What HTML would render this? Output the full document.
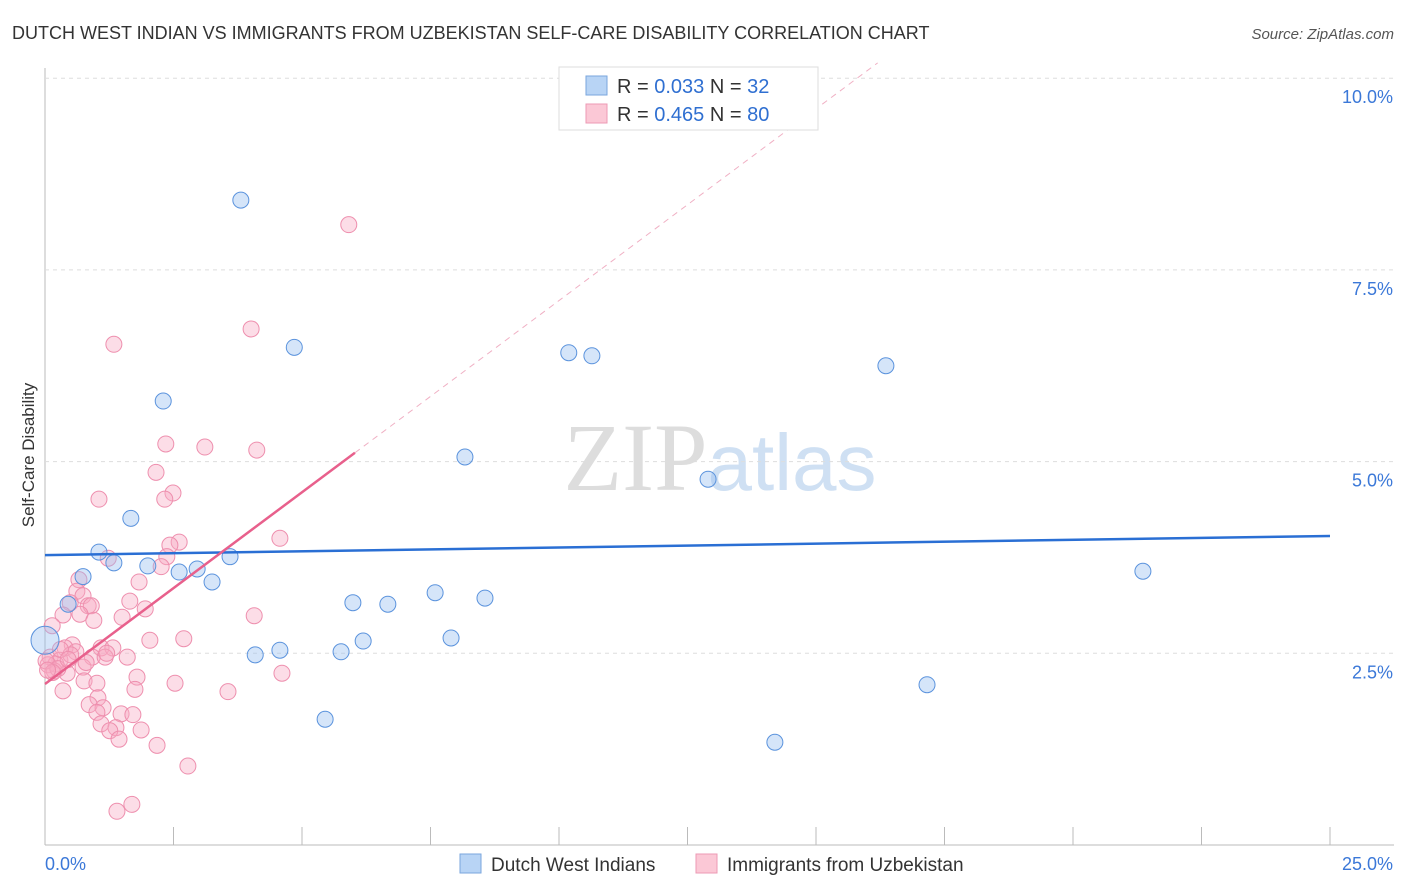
<!DOCTYPE html>
<html><head><meta charset="utf-8"><style>
body{margin:0;background:#fff;font-family:"Liberation Sans",sans-serif}
svg{display:block}
</style></head><body>
<svg id="c" width="1406" height="892" xmlns="http://www.w3.org/2000/svg">
<text x="12" y="39" font-size="18" fill="#333">DUTCH WEST INDIAN VS IMMIGRANTS FROM UZBEKISTAN SELF-CARE DISABILITY CORRELATION CHART</text>
<text x="1394" y="39" font-size="15" fill="#555" text-anchor="end" font-style="italic">Source: ZipAtlas.com</text>
<text x="720" y="490" font-size="96" text-anchor="middle" fill="#ddd" font-family="Liberation Serif">ZIP<tspan fill="#cfe0f3" font-family="Liberation Sans" font-size="80">atlas</tspan></text>
<text transform="translate(34,455) rotate(-90)" font-size="17" fill="#333" text-anchor="middle">Self-Care Disability</text>
<g id="grid"></g><g id="pts"></g><g id="lines"></g>
<g>
<rect x="559" y="67" width="259" height="63" fill="#fff" stroke="#ddd"/>
<rect x="586" y="76" width="21" height="19" fill="#b8d4f5" stroke="#7aa6dd"/>
<rect x="586" y="104" width="21" height="19" fill="#fbc8d6" stroke="#ec9ab4"/>
<text x="617" y="93" font-size="20" fill="#333">R = <tspan fill="#2f6fd1">0.033</tspan>   N = <tspan fill="#2f6fd1"> 32</tspan></text>
<text x="617" y="121" font-size="20" fill="#333">R = <tspan fill="#2f6fd1">0.465</tspan>   N = <tspan fill="#2f6fd1">80</tspan></text>
</g>
<g>
<rect x="460" y="854" width="21" height="19" fill="#b8d4f5" stroke="#7aa6dd"/>
<text x="491" y="871" font-size="19" fill="#333">Dutch West Indians</text>
<rect x="696" y="854" width="21" height="19" fill="#fbc8d6" stroke="#ec9ab4"/>
<text x="727" y="871" font-size="19" fill="#333">Immigrants from Uzbekistan</text>
</g>
</svg>
<script>
const xTicks=[0,2.5,5,7.5,10,12.5,15,17.5,20,22.5,25];
const yTicks=[2.5,5.0,7.5,10.0];
const blueX=[3.81,4.85,2.30,10.19,10.64,16.36,8.17,12.90,1.67,1.05,1.34,2.00,0.74,2.61,2.96,3.60,3.25,0.45,5.99,6.67,7.59,8.56,21.36,0,4.57,4.09,6.19,5.76,7.90,5.45,17.16,14.20];
const blueY=[8.41,6.49,5.79,6.42,6.38,6.25,5.06,4.77,4.26,3.82,3.68,3.64,3.50,3.56,3.60,3.76,3.43,3.14,3.16,3.14,3.29,3.22,3.57,2.67,2.54,2.48,2.66,2.52,2.70,1.64,2.09,1.34];
const pinkX=[5.91,4.01,1.34,2.35,3.11,4.12,2.16,1.05,2.49,2.33,4.57,2.61,2.43,1.23,2.37,2.26,0.66,1.83,0.62,0.74,0.49,1.65,0.84,0.90,1.95,0.35,0.68,1.50,4.07,0.95,0.14,2.04,2.70,0.53,0.39,1.09,1.32,0.60,0.92,1.17,0.10,1.60,0.29,0.21,0.06,0.74,0.18,0.43,4.61,1.79,0.76,1.01,2.53,0.35,3.56,1.75,1.03,0.86,1.13,1.01,1.48,1.71,1.09,1.38,1.26,1.87,1.44,2.18,2.78,1.69,1.40,0.02,0.25,0.5,0.8,1.2,0.3,0.15,0.45,0.05];
const pinkY=[8.09,6.73,6.53,5.23,5.19,5.15,4.86,4.51,4.59,4.51,4.00,3.95,3.91,3.74,3.76,3.63,3.46,3.43,3.31,3.25,3.16,3.18,3.12,3.12,3.08,3.00,3.01,2.97,2.99,2.93,2.86,2.67,2.69,2.61,2.57,2.57,2.57,2.52,2.45,2.45,2.45,2.45,2.41,2.36,2.35,2.32,2.27,2.24,2.24,2.19,2.14,2.11,2.11,2.01,2.00,2.03,1.92,1.83,1.79,1.73,1.71,1.70,1.58,1.53,1.49,1.50,1.38,1.30,1.03,0.53,0.44,2.40,2.30,2.48,2.38,2.50,2.55,2.25,2.42,2.28];
const blueFit=[3.78,4.03];
const pinkFit=[2.10,0.50];
const X=v=>45+v/25*1285, Y=v=>845-v/2.5*191.7;
const NS='http://www.w3.org/2000/svg';
function mk(tag,attrs,parent){const e=document.createElementNS(NS,tag);for(const k in attrs)e.setAttribute(k,attrs[k]);parent.appendChild(e);return e;}
const g=document.getElementById('grid'),p=document.getElementById('pts'),l=document.getElementById('lines');
let ax=mk('line',{x1:45,y1:68,x2:45,y2:845,stroke:'#bbb'},g);


let bx=mk('line',{x1:45,y1:845,x2:1394,y2:845,stroke:'#bbb'},g);


yTicks.forEach(v=>{
 let gl=mk('line',{x1:45,x2:1394,y1:Y(v),y2:Y(v),stroke:'#ddd','stroke-dasharray':'4,4'},g);
 
 
 let t=mk('text',{x:1393,y:Y(v)+25,'font-size':18,fill:'#3b78d8','text-anchor':'end'},g);t.textContent=v.toFixed(1)+'%';
 
 
});
xTicks.forEach((v,i)=>{
 let tk=mk('line',{x1:X(v),x2:X(v),y1:827,y2:845,stroke:'#bbb'},g);
 
 
 if(i==0||i==xTicks.length-1){let t=mk('text',{x:i==0?45:1393,y:870,'font-size':18,fill:'#3b78d8','text-anchor':i==0?'start':'end'},g);t.textContent=v.toFixed(1)+'%';
 
 }
});
pinkX.forEach((v,i)=>{let c=mk('circle',{cx:X(v),cy:Y(pinkY[i]),r:8,fill:'rgba(248,170,195,0.4)',stroke:'#ee8fae','stroke-width':1},p);
 
 });
blueX.forEach((v,i)=>{let c=mk('circle',{cx:X(v),cy:Y(blueY[i]),r:i==23?14:8,fill:'rgba(150,190,240,0.4)',stroke:'#5b93dd','stroke-width':1},p);
 
 });
let bl=mk('line',{x1:X(0),y1:Y(blueFit[0]),x2:X(25),y2:Y(blueFit[1]),stroke:'#2a6fd4','stroke-width':2.5},l);


const xEnd=(10.2-pinkFit[0])/pinkFit[1];
let pd=mk('line',{x1:X(6.03),y1:Y(pinkFit[0]+pinkFit[1]*6.03),x2:X(xEnd),y2:Y(10.2),stroke:'#f0b0c4','stroke-width':1,'stroke-dasharray':'6,5'},l);


let pl=mk('line',{x1:X(0),y1:Y(pinkFit[0]),x2:X(6.03),y2:Y(pinkFit[0]+pinkFit[1]*6.03),stroke:'#e8608c','stroke-width':2.5},l);


</script>
</body></html>
